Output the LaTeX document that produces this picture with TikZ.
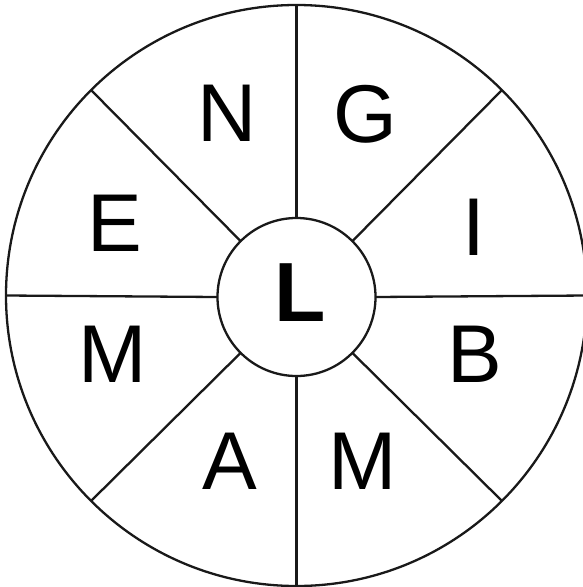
\documentclass[tikz,border=0pt]{standalone}
\usepackage{fontspec}
\setmainfont{Liberation Sans}
\begin{document}
\begin{tikzpicture}[x=1pt,y=-1pt,
  ring/.style={circle,draw=black!90,line width=2.3pt,inner sep=0pt,outer sep=0pt},
  spoke/.style={draw=black!90,line width=2.3pt},
  letter/.style={inner sep=0pt,font=\fontsize{82}{82}\selectfont}]
\useasboundingbox (0,0) rectangle (582,587);
\node[ring,minimum size=581pt] (outer) at (296.5,295.5) {};
\node[ring,minimum size=158pt,fill=white] (inner) at (296.5,297) {};
\foreach \a in {0,45,...,315}{
  \draw[spoke] (inner.\a) -- (outer.\a);
}
\node[letter,font=\fontsize{84}{84}\selectfont\bfseries] (L) at (300,293) {L};
\node[letter] (N) at (227.5,113.5) {N};
\node[letter] (G) at (365,114) {G};
\node[letter] (I) at (473.5,227) {I};
\node[letter] (B) at (475,354.5) {B};
\node[letter] (M1) at (363,461) {M};
\node[letter] (A) at (230,461) {A};
\node[letter] (M2) at (113,354) {M};
\node[letter] (E) at (115,223) {E};
\end{tikzpicture}
\end{document}
